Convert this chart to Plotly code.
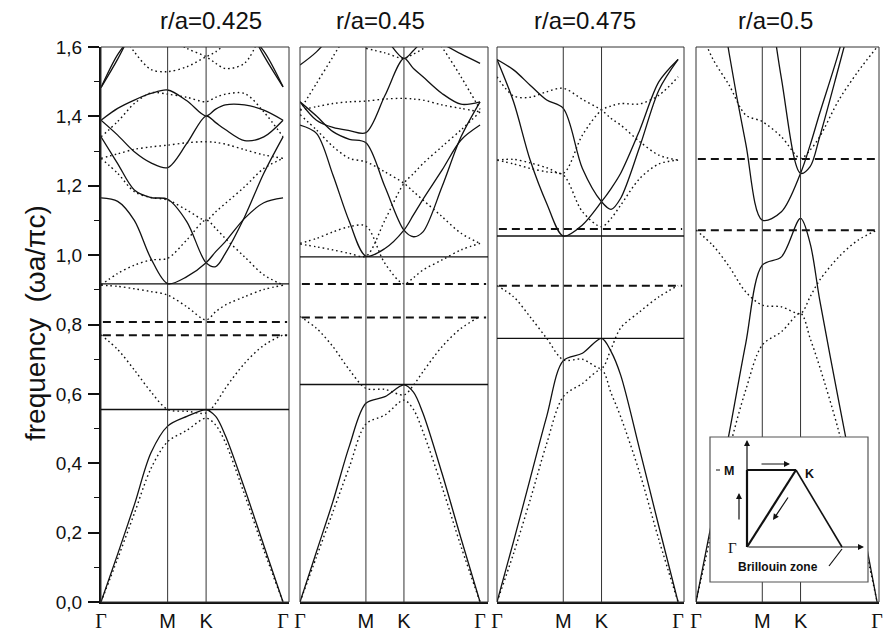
import plotly.graph_objects as go

# ---------------- data ----------------
# k-path sample positions (Γ ... M ... K ... Γ), in units of 2π/a
K_PATH = [0.0, 0.1443, 0.2887, 0.4330, 0.5774, 0.7441, 0.9107, 0.9940, 1.0774, 1.2440, 1.4107, 1.5774]
SYM_POS = [0.0, 0.5774, 0.9107, 1.5774]
SYM_LABELS = ["Γ", "M", "K", "Γ"]
TITLES = ["r/a=0.425", "r/a=0.45", "r/a=0.475", "r/a=0.5"]
Y_TICKS = [0.0, 0.2, 0.4, 0.6, 0.8, 1.0, 1.2, 1.4, 1.6]

N = None
# r/a = 0.425
R425_SOLID = [
    [0, 0.138, 0.28, 0.43, 0.507, 0.535, 0.554, 0.535, 0.48, 0.327, 0.163, 0],
    [1.165, 1.155, 1.10, 0.99, 0.918, 0.938, 0.978, 1.01, 1.039, 1.106, 1.151, 1.165],
    [1.341, 1.264, 1.188, 1.166, 1.161, 1.096, 0.978, 0.967, 1.005, 1.11, 1.236, 1.341],
    [1.389, 1.346, 1.298, 1.266, 1.252, 1.322, 1.401, 1.382, 1.362, 1.330, 1.341, 1.389],
    [1.389, 1.423, 1.447, 1.466, 1.476, 1.445, 1.401, 1.421, 1.433, 1.433, 1.418, 1.389],
    [1.483, 1.565, 1.66, N, N, N, N, N, N, 1.68, 1.575, 1.485],
    [1.483, 1.578, 1.64, N, N, N, N, N, N, 1.65, 1.588, 1.485],
]
R425_DOTTED = [
    [0, 0.125, 0.255, 0.385, 0.462, 0.495, 0.53, 0.51, 0.46, 0.31, 0.15, 0],
    [0.77, 0.728, 0.669, 0.606, 0.555, 0.55, 0.545, 0.573, 0.616, 0.688, 0.74, 0.77],
    [0.913, 0.91, 0.903, 0.895, 0.885, 0.851, 0.813, 0.837, 0.856, 0.88, 0.901, 0.913],
    [0.914, 0.947, 0.971, 0.986, 0.991, 1.044, 1.101, 1.077, 1.048, 0.995, 0.943, 0.914],
    [1.341, 1.385, 1.437, 1.468, 1.464, 1.455, 1.442, 1.455, 1.464, 1.466, 1.413, 1.341],
    [1.279, 1.292, 1.305, 1.312, 1.317, 1.324, 1.327, 1.325, 1.320, 1.304, 1.289, 1.279],
    [1.279, 1.236, 1.183, 1.166, 1.159, 1.130, 1.101, 1.125, 1.149, 1.197, 1.25, 1.279],
    [N, 1.66, 1.586, 1.535, 1.529, 1.543, 1.572, 1.586, 1.61, N, N, N],
    [N, N, N, N, 1.63, 1.596, 1.572, 1.553, 1.538, 1.553, 1.66, N],
]
R425_GAP_SOLID = [0.555, 0.917]
R425_GAP_DASHED = [0.769, 0.807]

# r/a = 0.45
R45_SOLID = [
    [0, 0.145, 0.29, 0.45, 0.573, 0.592, 0.626, 0.605, 0.544, 0.371, 0.183, 0],
    [1.375, 1.351, 1.231, 1.096, 0.997, 1.019, 1.072, 1.116, 1.161, 1.245, 1.332, 1.375],
    [1.442, 1.401, 1.356, 1.334, 1.324, 1.197, 1.072, 1.053, 1.067, 1.197, 1.341, 1.442],
    [1.442, 1.389, 1.368, 1.359, 1.353, 1.46, 1.567, 1.538, 1.514, 1.466, 1.435, 1.442],
    [N, N, N, N, 1.72, 1.63, 1.567, 1.59, 1.62, N, N, N],
    [1.548, 1.586, 1.64, N, N, N, N, N, N, N, N, N],
    [N, N, N, N, N, N, N, N, N, 1.61, 1.58, 1.553],
]
R45_DOTTED = [
    [0, 0.13, 0.26, 0.39, 0.513, 0.539, 0.582, 0.555, 0.491, 0.332, 0.16, 0],
    [0.823, 0.789, 0.736, 0.669, 0.616, 0.613, 0.597, 0.625, 0.664, 0.736, 0.789, 0.823],
    [1.034, 1.048, 1.067, 1.082, 1.084, 0.976, 0.917, 0.935, 0.957, 0.986, 1.015, 1.034],
    [1.032, 1.024, 1.015, 1.005, 0.997, 1.101, 1.207, 1.235, 1.264, 1.313, 1.361, 1.413],
    [1.405, 1.361, 1.313, 1.279, 1.269, 1.240, 1.207, 1.183, 1.159, 1.111, 1.063, 1.034],
    [1.418, 1.428, 1.437, 1.442, 1.444, 1.450, 1.452, 1.450, 1.447, 1.433, 1.423, 1.413],
    [1.418, 1.495, 1.572, 1.65, N, N, N, N, N, N, N, N],
    [N, N, N, N, N, N, N, N, 1.68, 1.60, 1.514, 1.42],
    [N, N, N, N, 1.596, 1.583, 1.567, 1.58, 1.595, 1.65, N, N],
]
R45_GAP_SOLID = [0.627, 0.995]
R45_GAP_DASHED = [0.820, 0.917]

# r/a = 0.475
R475_SOLID = [
    [0, 0.175, 0.355, 0.535, 0.696, 0.717, 0.760, 0.722, 0.654, 0.438, 0.217, 0],
    [1.564, 1.534, 1.49, 1.447, 1.423, 1.25, 1.154, 1.132, 1.164, 1.313, 1.476, 1.564],
    [1.564, 1.442, 1.274, 1.149, 1.055, 1.087, 1.154, 1.192, 1.236, 1.361, 1.5, 1.564],
]
R475_DOTTED = [
    [0, 0.14, 0.294, 0.457, 0.592, 0.63, 0.669, 0.602, 0.534, 0.371, 0.179, 0],
    [0.912, 0.88, 0.822, 0.76, 0.698, 0.70, 0.674, 0.73, 0.79, 0.837, 0.88, 0.912],
    [1.274, 1.263, 1.25, 1.24, 1.231, 1.125, 1.082, 1.106, 1.144, 1.221, 1.263, 1.274],
    [1.514, 1.459, 1.455, 1.471, 1.481, 1.449, 1.418, 1.394, 1.375, 1.327, 1.288, 1.274],
    [1.274, 1.276, 1.266, 1.252, 1.236, 1.346, 1.418, 1.43, 1.437, 1.436, 1.461, 1.514],
]
R475_GAP_SOLID = [0.760, 1.055]
R475_GAP_DASHED = [0.912, 1.075]

# r/a = 0.5
R5_SOLID = [
    [0, 0.243, 0.486, 0.745, 0.971, 0.995, 1.106, 1.034, 0.871, 0.578, 0.292, 0],
    [N, 1.9, 1.582, 1.322, 1.101, 1.125, 1.236, 1.317, 1.409, 1.586, 1.8, N],
    [N, N, N, N, 1.9, 1.509, 1.236, 1.255, 1.341, 1.543, 1.75, N],
]
R5_DOTTED = [
    [0, 0.217, 0.438, 0.611, 0.741, 0.779, 0.832, 0.76, 0.678, 0.491, 0.256, 0],
    [1.072, 1.029, 0.967, 0.894, 0.856, 0.851, 0.832, 0.88, 0.928, 0.995, 1.043, 1.072],
    [1.68, 1.567, 1.49, 1.404, 1.385, 1.341, 1.279, 1.303, 1.341, 1.447, 1.529, 1.6],
]
R5_GAP_SOLID = []
R5_GAP_DASHED = [1.072, 1.277]

# ---------------- layout helpers ----------------
W, H = 884, 637
ML, MR, MT, MB = 101, 5, 47, 35
PW, PH = W - ML - MR, H - MT - MB


def px(x):
    return (x - ML) / PW


def py(y):
    return (H - MB - y) / PH


PANELS = [
    (R425_SOLID, R425_DOTTED, R425_GAP_SOLID, R425_GAP_DASHED),
    (R45_SOLID, R45_DOTTED, R45_GAP_SOLID, R45_GAP_DASHED),
    (R475_SOLID, R475_DOTTED, R475_GAP_SOLID, R475_GAP_DASHED),
    (R5_SOLID, R5_DOTTED, R5_GAP_SOLID, R5_GAP_DASHED),
]
PANEL_PX = [(101, 289), (300, 488), (497, 684), (696, 879)]
XMAX = [1.629, 1.647, 1.629, 1.594]
TITLE_X = [211, 380, 585, 775]

SANS = "Liberation Sans, Arial, sans-serif"
SERIF = "Liberation Serif, Times New Roman, serif"
INK = "#111111"

fig = go.Figure()
shapes = []
annotations = []
layout = {}

tick_text = [
    "<span style='font-family:Liberation Serif'>Γ</span>" if t == "Γ" else t
    for t in SYM_LABELS
]

for i, (solid, dotted, gsol, gdash) in enumerate(PANELS):
    n = "" if i == 0 else str(i + 1)
    xa, ya = "x" + n, "y" + n
    for band in dotted:
        fig.add_trace(go.Scatter(
            x=K_PATH, y=band, mode="lines", xaxis=xa, yaxis=ya,
            line=dict(color=INK, width=1.4, dash="1.6px,3px", shape="spline", smoothing=0.9),
            hoverinfo="skip", showlegend=False, connectgaps=False))
    for band in solid:
        fig.add_trace(go.Scatter(
            x=K_PATH, y=band, mode="lines", xaxis=xa, yaxis=ya,
            line=dict(color=INK, width=1.3, shape="spline", smoothing=0.9),
            hoverinfo="skip", showlegend=False, connectgaps=False))

    x0, x1 = PANEL_PX[i]
    layout["xaxis" + n] = dict(
        domain=[px(x0), px(x1)], range=[0, XMAX[i]], anchor=ya, automargin=False,
        tickmode="array", tickvals=SYM_POS, ticktext=tick_text,
        tickfont=dict(family=SANS, size=20, color=INK), ticks="",
        ticklabelstandoff=0,
        showgrid=False, zeroline=False, showline=True, linewidth=2, linecolor=INK,
        fixedrange=True)
    ycfg = dict(domain=[0, 1], range=[0, 1.6], anchor=xa, showgrid=False,
                zeroline=False, fixedrange=True, automargin=False)
    if i == 0:
        ycfg.update(showline=True, linewidth=2, linecolor=INK, ticks="outside",
                    ticklen=11, tickwidth=1.5, tickcolor=INK,
                    tickmode="array", tickvals=Y_TICKS, tickformat=".1f",
                    ticklabelstandoff=2,
                    tickfont=dict(family=SANS, size=19, color=INK),
                    minor=dict(ticks="outside", ticklen=5, tickwidth=1.3,
                               tickcolor=INK, dtick=0.1))
    else:
        ycfg.update(showline=False, showticklabels=False, ticks="")
    layout["yaxis" + n] = ycfg

    # frame
    shapes.append(dict(type="rect", xref=xa + " domain", yref=ya + " domain",
                       x0=0, x1=1, y0=0, y1=1, line=dict(color="#333333", width=1)))
    # symmetry point lines (M, K)
    for k in SYM_POS[1:3]:
        shapes.append(dict(type="line", xref=xa, yref=ya + " domain", x0=k, x1=k,
                           y0=0, y1=1, line=dict(color="#333333", width=1)))
    # gap edges
    for g in gsol:
        shapes.append(dict(type="line", xref=xa + " domain", yref=ya, x0=0, x1=1,
                           y0=g, y1=g, line=dict(color=INK, width=1.4)))
    for g in gdash:
        shapes.append(dict(type="line", xref=xa + " domain", yref=ya, x0=0.01, x1=0.99,
                           y0=g, y1=g, line=dict(color=INK, width=2, dash="8px,5px")))

    annotations.append(dict(text=TITLES[i], xref="paper", yref="paper",
                            x=px(TITLE_X[i]), y=py(20), showarrow=False,
                            xanchor="center", yanchor="middle",
                            font=dict(family=SANS, size=24, color=INK)))

# y-axis title
annotations.append(dict(text="frequency  (ωa/πc)", xref="paper", yref="paper",
                        x=px(35), y=py(323), textangle=-90, showarrow=False,
                        xanchor="center", yanchor="middle",
                        font=dict(family=SANS, size=28, color=INK)))

# ---------------- Brillouin zone inset ----------------
shapes.append(dict(type="rect", xref="paper", yref="paper",
                   x0=px(710), x1=px(868), y0=py(582), y1=py(437),
                   fillcolor="white", line=dict(color="#555555", width=1.2)))
G, M, Kp, B = (747, 547), (747, 470), (796, 470), (842, 547)
for (a, b, w) in [(G, M, 2.2), (M, Kp, 2.2), (G, Kp, 2.2), (Kp, B, 1.6),
                  ((829, 566), (842, 549), 1.2), ((716, 470), (720, 470), 1.0)]:
    shapes.append(dict(type="line", xref="paper", yref="paper",
                       x0=px(a[0]), y0=py(a[1]), x1=px(b[0]), y1=py(b[1]),
                       line=dict(color=INK, width=w)))


def arrow(tail, head, w=1.2, size=1.0):
    annotations.append(dict(text="", xref="paper", yref="paper",
                            x=px(head[0]), y=py(head[1]),
                            ax=tail[0] - head[0], ay=tail[1] - head[1],
                            showarrow=True, arrowhead=2, arrowsize=size,
                            arrowwidth=w, arrowcolor=INK, standoff=0))


arrow(G, (747, 440))
arrow(G, (864, 547))
arrow((760, 464), (790, 464))
arrow((739, 521), (739, 493))
arrow((789, 496), (773, 520))

for txt, x, y, fam, sz in [("<b>M</b>", 729, 471, SANS, 12.5), ("<b>K</b>", 809, 474, SANS, 12.5),
                           ("Γ", 732, 548, SERIF, 15),
                           ("<b>Brillouin zone</b>", 778, 567, SANS, 12)]:
    annotations.append(dict(text=txt, xref="paper", yref="paper", x=px(x), y=py(y),
                            showarrow=False, xanchor="center", yanchor="middle",
                            font=dict(family=fam, size=sz, color=INK)))

fig.update_layout(
    width=W, height=H, margin=dict(l=ML, r=MR, t=MT, b=MB, autoexpand=False),
    paper_bgcolor="white", plot_bgcolor="white",
    separators=",.", showlegend=False,
    shapes=shapes, annotations=annotations,
    font=dict(family=SANS, color=INK),
    **layout,
)

fig.write_html(
    "out.html",
    config={"displayModeBar": False},
    post_script="document.body.style.margin='0px';document.body.style.padding='0px';",
)
